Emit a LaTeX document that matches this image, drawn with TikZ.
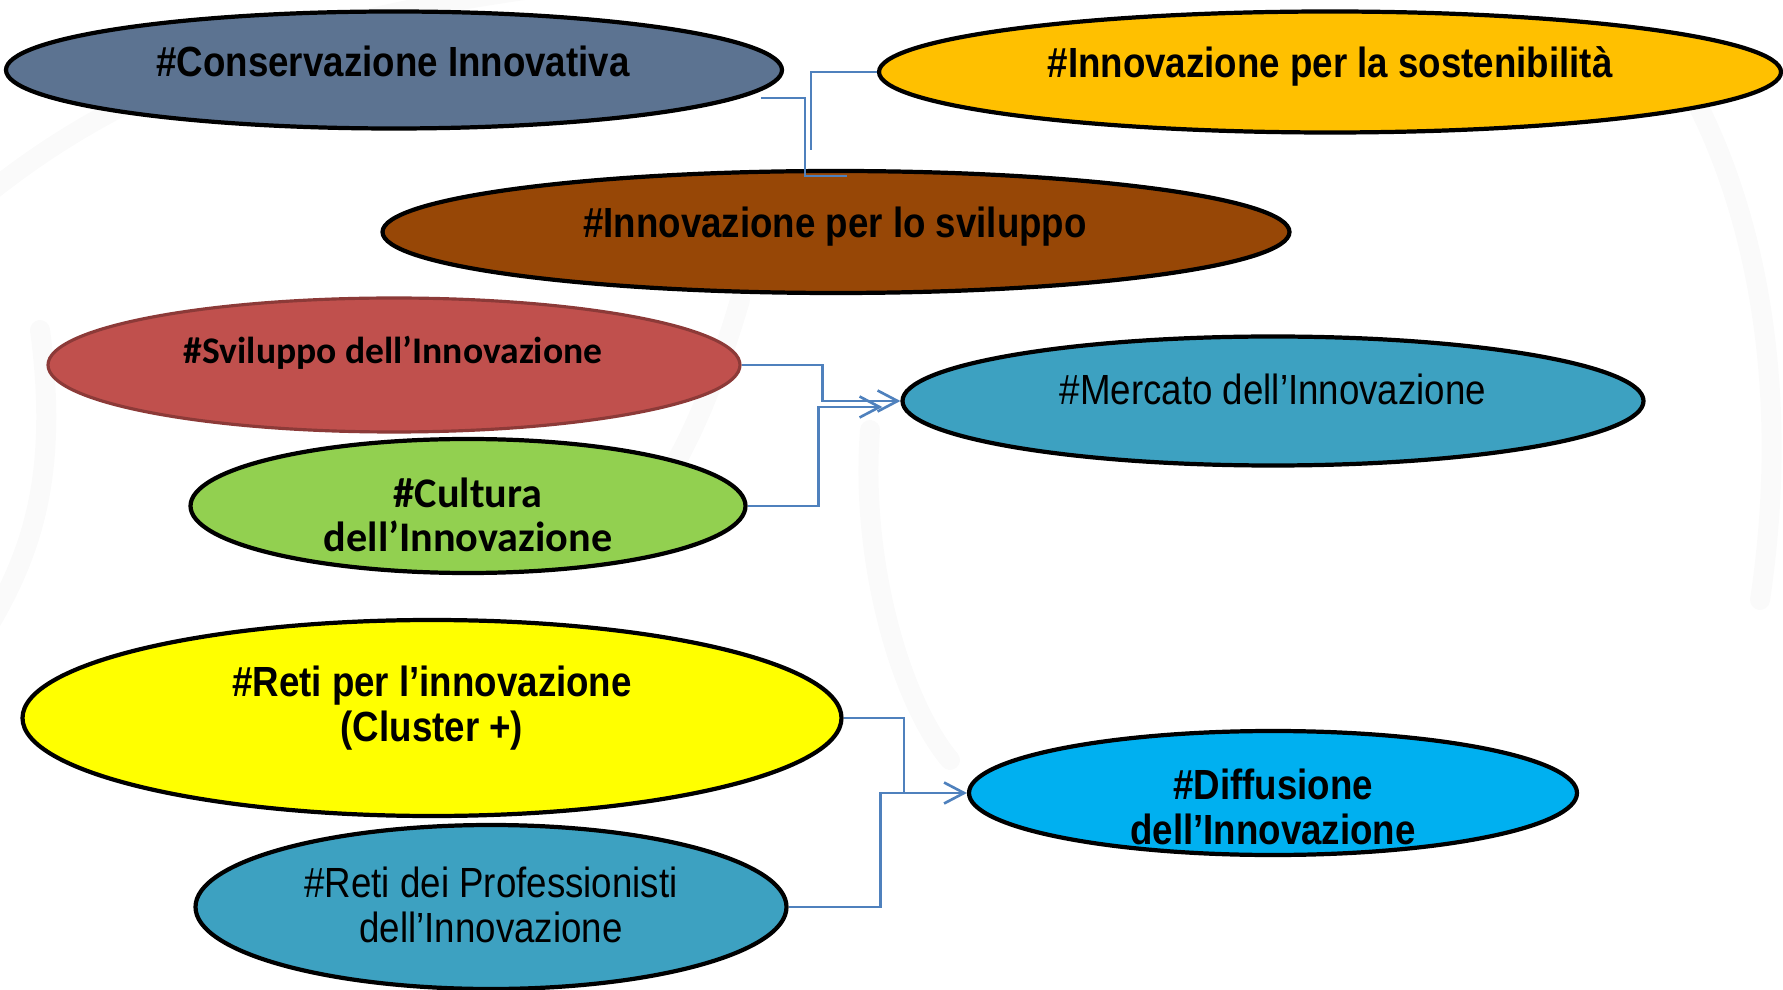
\documentclass[tikz,border=0pt]{standalone}
\usepackage{fontspec}
\setmainfont{Liberation Sans}
\newfontfamily\stretto[FakeStretch=0.87]{Liberation Sans}
\newfontfamily\calibri{Carlito}
\usetikzlibrary{shapes.geometric,arrows.meta}
\definecolor{ardesia}{RGB}{92,115,145}
\definecolor{arancio}{RGB}{255,192,0}
\definecolor{marrone}{RGB}{151,71,6}
\definecolor{rosso}{RGB}{192,80,77}
\definecolor{rossoscuro}{RGB}{140,58,56}
\definecolor{verde}{RGB}{146,208,80}
\definecolor{ottanio}{RGB}{61,161,193}
\definecolor{giallo}{RGB}{255,255,0}
\definecolor{azzurro}{RGB}{0,176,240}
\definecolor{filo}{RGB}{79,129,189}
\tikzset{
  bolla/.style={ellipse, draw=black, line width=1.2pt, inner sep=0pt},
  scritta/.style={font=\stretto\bfseries\fontsize{12}{12.7}\selectfont, align=center},
  chiara/.style={font=\stretto\fontsize{12}{12.7}\selectfont, align=center},
  link/.style={draw=filo, line width=0.75pt},
  freccia/.style={link, -{Straight Barb[length=2mm,width=2.1mm,line width=0.75pt]}},
  sfondo/.style={draw=black!2, line width=2mm, line cap=round}
}
\begin{document}
\begin{tikzpicture}[x=0.1mm,y=-0.1mm]
            \useasboundingbox (0,0) rectangle (1783,990);
            \draw[sfondo] (-20,200) .. controls (150,60) and (350,10) .. (600,-20);
            \draw[sfondo] (-20,640) .. controls (30,560) and (60,480) .. (40,330);
            \draw[sfondo] (1690,90) .. controls (1760,220) and (1790,400) .. (1760,600);
            \draw[sfondo] (870,430) .. controls (860,560) and (900,700) .. (950,760);
            \draw[sfondo] (600,560) .. controls (640,520) and (690,470) .. (740,300);
            \node[bolla, fill=ardesia, minimum width=77.6mm, minimum height=11.7mm] (cons) at (394,70) {};
            \node[bolla, fill=arancio, minimum width=90.2mm, minimum height=12.1mm] (sost) at (1330,72) {};
            \node[bolla, fill=marrone, minimum width=90.7mm, minimum height=12.2mm] (svil) at (836,232) {};
            \node[bolla, fill=rosso, draw=rossoscuro, line width=0.9pt, minimum width=69.2mm, minimum height=13.4mm] (svi) at (394,365) {};
            \node[bolla, fill=verde, minimum width=55.5mm, minimum height=13.4mm] (cul) at (468,506) {};
            \node[bolla, fill=ottanio, minimum width=74.1mm, minimum height=12.9mm] (merc) at (1273,401) {};
            \node[bolla, fill=giallo, minimum width=81.9mm, minimum height=19.6mm] (reti) at (432,718) {};
            \node[bolla, fill=ottanio, minimum width=59.1mm, minimum height=16.4mm] (prof) at (491,907) {};
            \node[bolla, fill=azzurro, minimum width=60.8mm, minimum height=12.4mm] (diff) at (1273,793) {};
            \node[scritta] (cons-t) at (393,61) {\#Conservazione Innovativa};
            \node[scritta] (sost-t) at (1330,66) {\#Innovazione per la sostenibilità};
            \node[scritta] (svil-t) at (835,227) {\#Innovazione per lo sviluppo};
            \node[font=\calibri\bfseries\fontsize{10.7}{12.7}\selectfont] (svi-t) at (393,353) {\#Sviluppo dell’Innovazione};
            \node[font=\calibri\bfseries\fontsize{12}{12.7}\selectfont, align=center] (cul-t) at (468,515) {\#Cultura\\dell’Innovazione};
            \node[chiara] (merc-t) at (1273,389) {\#Mercato dell’Innovazione};
            \node[scritta] (reti-t) at (432,708) {\#Reti per l’innovazione\\(Cluster +)};
            \node[chiara] (prof-t) at (491,905) {\#Reti dei Professionisti\\dell’Innovazione};
            \node[scritta] (diff-t) at (1273,807) {\#Diffusione\\dell’Innovazione};
            \coordinate (c-a) at ([shift={(-23,28)}]cons.east);
            \coordinate (c-b) at ([shift={(11,7)}]svil.north);
            \coordinate (s-a) at ([shift={(-66,78)}]sost.west);
            \coordinate (m-b) at ([shift={(-18,6)}]merc.west);
            \coordinate (giunto) at ([shift={(-63,0)}]diff.west);
            \draw[link] (c-a) -- ++(44,0) |- (c-b);
            \draw[link] (sost.west) -| (s-a);
            \draw[freccia] (svi.east) -- ++(81,0) |- (merc.west);
            \draw[freccia] (cul.east) -- ++(71,0) |- (m-b);
            \draw[link] (reti.east) -| (giunto);
            \draw[freccia] (prof.east) -- ++(92,0) |- (diff.west);
        \end{tikzpicture}
\end{document}
